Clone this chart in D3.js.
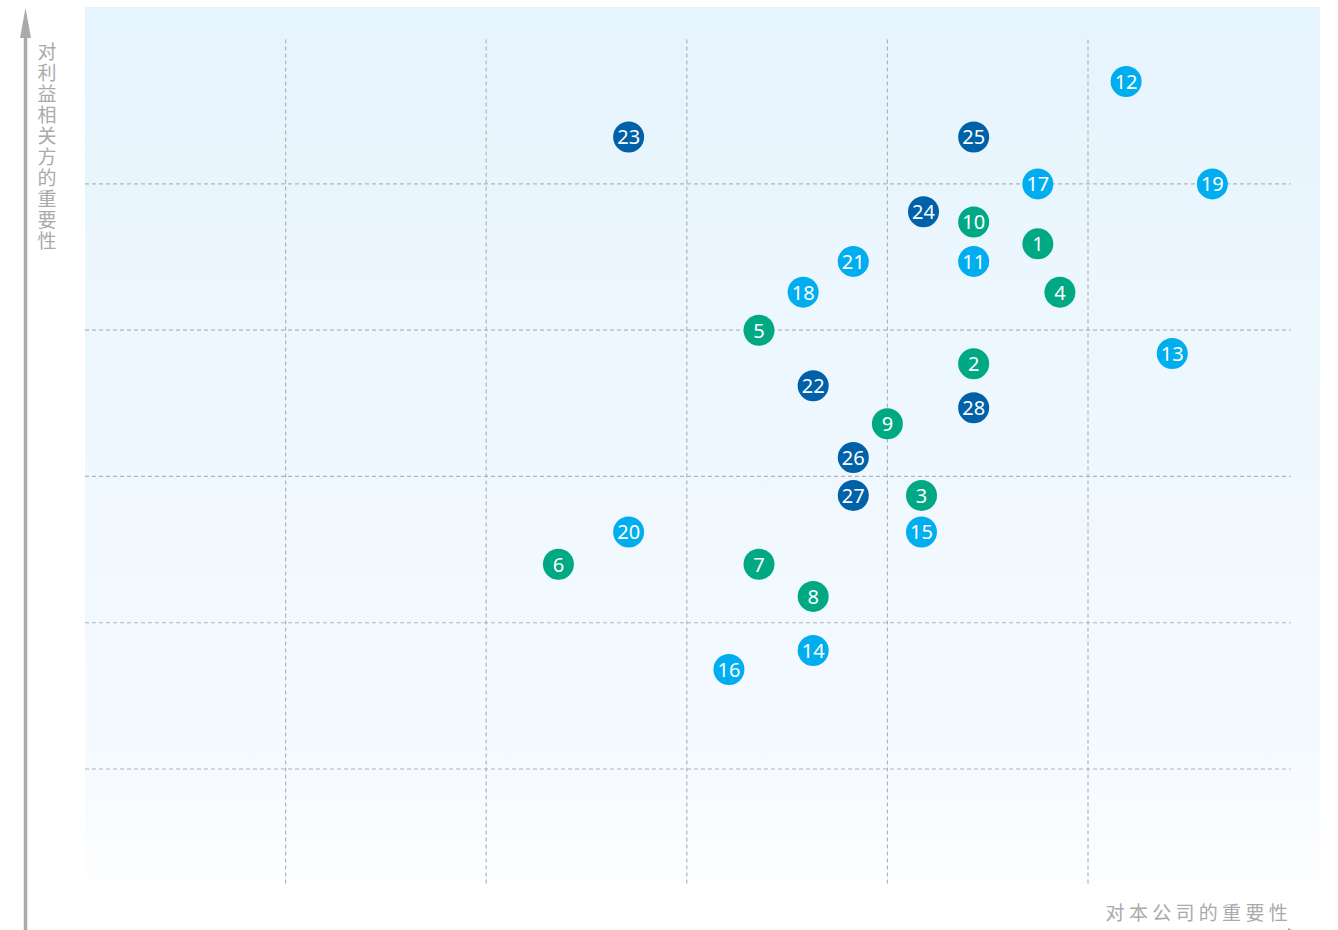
<!DOCTYPE html>
<html>
<head>
<meta charset="utf-8">
<script src="https://cdn.jsdelivr.net/npm/d3@7/dist/d3.min.js"></script>
<style>
  body { margin: 0; background: #fff; }
  svg { display: block; }
</style>
</head>
<body>
<svg id="chart" width="1338" height="930"></svg>
<script>
// topic ids, importance to the company (x) and to stakeholders (y)
const ids = [1, 2, 3, 4, 5, 6, 7, 8, 9, 10,
  11, 12, 13, 14, 15, 16, 17, 18, 19, 20, 21,
  22, 23, 24, 25, 26, 27, 28];
const xValues = [4.75, 4.43, 4.17, 4.86, 3.36, 2.36, 3.36, 3.63, 4.0, 4.43,
  4.43, 5.19, 5.42, 3.63, 4.17, 3.21, 4.75, 3.58, 5.62, 2.71, 3.83,
  3.63, 2.71, 4.18, 4.43, 3.83, 3.83, 4.43];
const yValues = [4.59, 3.77, 2.87, 4.26, 4.0, 2.4, 2.4, 2.18, 3.36, 4.74,
  4.47, 5.7, 3.84, 1.81, 2.62, 1.68, 5.0, 4.26, 5.0, 2.62, 4.47,
  3.62, 5.32, 4.81, 5.32, 3.13, 2.87, 3.47];
const groups = ["g", "g", "g", "g", "g", "g", "g", "g", "g", "g",
  "l", "l", "l", "l", "l", "l", "l", "l", "l", "l", "l",
  "d", "d", "d", "d", "d", "d", "d"];
const xGrid = [1, 2, 3, 4, 5];
const yGrid = [1, 2, 3, 4, 5];
const yTitle = "对利益相关方的重要性";
const xTitle = "对本公司的重要性";

const colors = { g: "#00a984", l: "#00aeef", d: "#0060a8" };

const svg = d3.select("#chart");

const x = d3.scaleLinear().domain([0, 6]).range([85, 1288.6]);
const y = d3.scaleLinear().domain([0, 6]).range([915.3, 37.6]);

// background gradient
const grad = svg.append("defs").append("linearGradient")
  .attr("id", "bg").attr("x1", 0).attr("y1", 0).attr("x2", 0).attr("y2", 1);
grad.append("stop").attr("offset", "0%").attr("stop-color", "#e6f4fd");
grad.append("stop").attr("offset", "85%").attr("stop-color", "#f5faff");
grad.append("stop").attr("offset", "100%").attr("stop-color", "#fdfeff");

svg.append("rect")
  .attr("x", 85).attr("y", 7)
  .attr("width", 1320 - 85).attr("height", 885 - 7)
  .attr("fill", "url(#bg)");

// dashed grid
const grid = svg.append("g")
  .attr("stroke", "#b0b5ba")
  .attr("stroke-width", 1.2)
  .attr("stroke-dasharray", "4,3");

grid.selectAll(".vline")
  .data(xGrid)
  .join("line")
  .attr("class", "vline")
  .attr("x1", (d) => x(d)).attr("x2", (d) => x(d))
  .attr("y1", y(6) + 2).attr("y2", 886);

grid.selectAll(".hline")
  .data(yGrid)
  .join("line")
  .attr("class", "hline")
  .attr("x1", x(0)).attr("x2", x(6) + 2)
  .attr("y1", (d) => y(d)).attr("y2", (d) => y(d));

// axes with arrows
const axisColor = "#aaaaaa";
svg.append("line")
  .attr("x1", 25.5).attr("x2", 25.5)
  .attr("y1", 30).attr("y2", 930)
  .attr("stroke", axisColor).attr("stroke-width", 3.5);
svg.append("path")
  .attr("d", "M25.5,8 L31,38 L20,38 Z")
  .attr("fill", axisColor);

svg.append("line")
  .attr("x1", 0).attr("x2", 1290)
  .attr("y1", 934).attr("y2", 934)
  .attr("stroke", axisColor).attr("stroke-width", 3.5);
svg.append("path")
  .attr("d", "M1300,934 L1288,928 L1288,940 Z")
  .attr("fill", axisColor);

// axis titles (y title set vertically, one glyph per row)
svg.append("text")
  .attr("x", 47)
  .attr("y", 42)
  .attr("writing-mode", "tb")
  .attr("font-family", "Noto Sans CJK SC, sans-serif")
  .attr("font-size", 19)
  .attr("letter-spacing", 2)
  .attr("fill", "#aaaaaa")
  .text(yTitle);

svg.append("text")
  .attr("x", 1292)
  .attr("y", 920)
  .attr("text-anchor", "end")
  .attr("font-family", "Noto Sans CJK SC, sans-serif")
  .attr("font-size", 19)
  .attr("letter-spacing", 4.3)
  .attr("fill", "#aaaaaa")
  .text(xTitle);

// topic bubbles
const points = ids.map((id, i) => ({
  id,
  x: xValues[i],
  y: yValues[i],
  group: groups[i],
}));

const dots = svg.append("g")
  .selectAll("g")
  .data(points)
  .join("g")
  .attr("transform", (d) => `translate(${x(d.x)},${y(d.y)})`);

dots.append("circle")
  .attr("r", 15.5)
  .attr("fill", (d) => colors[d.group]);

dots.append("text")
  .attr("text-anchor", "middle")
  .attr("dy", "0.37em")
  .attr("font-family", "Noto Sans, sans-serif")
  .attr("font-size", 20)
  .attr("fill", "#fff")
  .text((d) => d.id);
</script>
</body>
</html>
